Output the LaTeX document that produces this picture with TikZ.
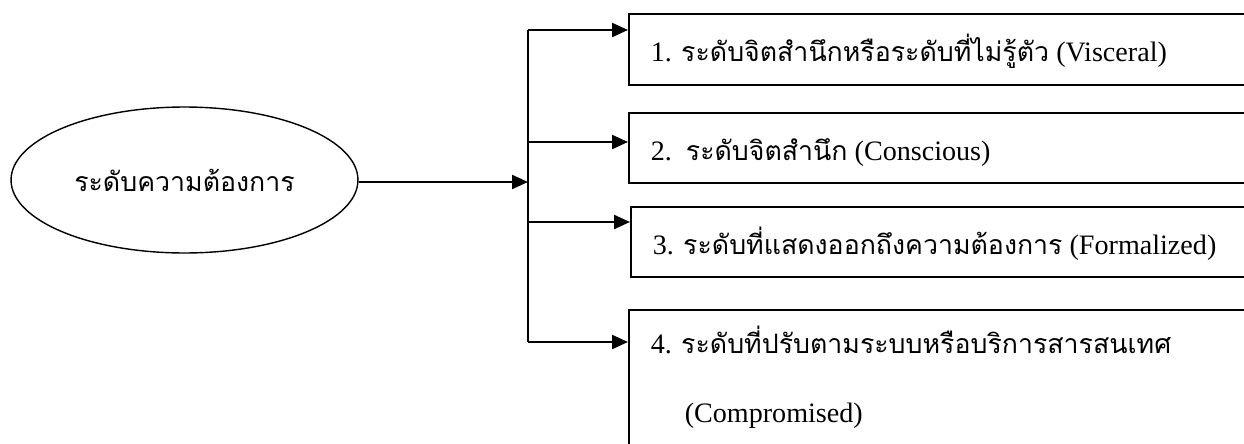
\documentclass[tikz,border=0pt]{standalone}
\usepackage{fontspec}
\setmainfont{Liberation Serif}
\newfontfamily\thaifont[Script=Thai,Scale=0.95]{Loma}
\newcommand{\tha}[1]{{\thaifont #1}}
\usetikzlibrary{shapes.geometric,arrows.meta}

\tikzset{
  >={Triangle[length=0.32cm,width=0.28cm]},
  level/.style={draw, line width=0.9pt, rectangle, anchor=north west,
    inner xsep=0.44cm, inner ysep=0pt, text height=0.96cm, text depth=0.44cm},
  need/.style={draw, ellipse, line width=0.8pt, minimum width=6.94cm, minimum height=2.92cm},
  link/.style={line width=1.3pt}
}

\begin{document}
\begin{tikzpicture}[x=0.02cm, y=-0.02cm, font=\fontsize{16}{20}\selectfont]
  \useasboundingbox (0,0) rectangle (1244,443);
  \clip (0,0) rectangle (1244,443);

  \node[need] (need) at (184.5,180) {\tha{ระดับความต้องการ}};

  \node[level, text depth=0.46cm] (l1) at (628,13)
    {\makebox[12cm][l]{1. \tha{ระดับจิตสำนึกหรือระดับที่ไม่รู้ตัว} (Visceral)}};
  \node[level] (l2) at (628,112)
    {\makebox[12cm][l]{2.\ \ \tha{ระดับจิตสำนึก} (Conscious)}};
  \node[level] (l3) at (630,206)
    {\makebox[12cm][l]{3. \tha{ระดับที่แสดงออกถึงความต้องการ} (Formalized)}};
  \node[level, text height=0.88cm, text depth=3cm] (l4) at (628,309)
    {\makebox[12cm][l]{\parbox[t]{12cm}{\setlength{\baselineskip}{1.38cm}%
      4. \tha{ระดับที่ปรับตามระบบหรือบริการสารสนเทศ}\\
      \hspace*{0.68cm}(Compromised)}}};

  % branching bar
  \coordinate (hub) at (528,182);
  \coordinate (j1) at (528,30);
  \coordinate (j2) at (528,142);
  \coordinate (j3) at (528,222);
  \coordinate (j4) at (528,342);
  \draw[link] (j1) -- (j4);

  \path[->, link]
  (need.east |- hub) edge (hub)
  (j1) edge (j1 -| l1.west)
  (j2) edge (j2 -| l2.west)
  (j3) edge (j3 -| l3.west)
  (j4) edge (j4 -| l4.west)
  ;
\end{tikzpicture}
\end{document}
